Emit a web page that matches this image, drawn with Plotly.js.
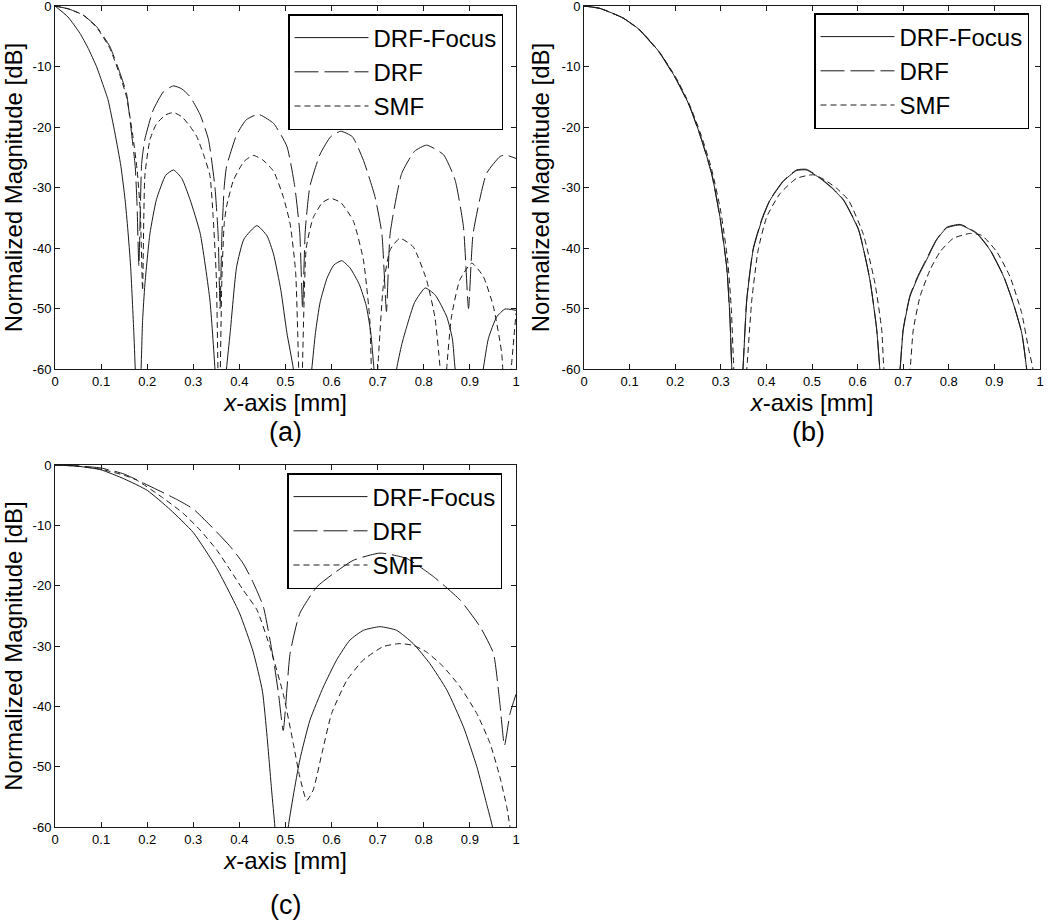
<!DOCTYPE html>
<html>
<head>
<meta charset="utf-8">
<script src="https://cdn.plot.ly/plotly-3.0.1.min.js"></script>
<style>
  body { margin: 0; background: #fff; }
  #myPlot { width: 1050px; height: 921px; }
</style>
</head>
<body>
<div id="myPlot"></div>
<script>
// Panel (a)
var aFocusX = [0,0.028,0.054,0.072,0.09,0.104,0.115,0.13,0.143,0.152,0.158,0.164,0.171,0.175,0.18,0.186,0.19,0.195,0.206,0.22,0.24,0.257,0.275,0.293,0.315,0.336,0.347,0.358,0.372,0.38,0.394,0.41,0.438,0.46,0.474,0.49,0.503,0.517,0.535,0.557,0.565,0.575,0.59,0.605,0.622,0.64,0.66,0.675,0.685,0.692,0.715,0.741,0.752,0.763,0.78,0.803,0.825,0.85,0.862,0.868,0.9,0.929,0.94,0.958,0.976,1.0]
var aFocusY = [0,-1.8,-4.5,-7,-10,-13,-15.5,-21,-26.5,-32,-37,-43,-54,-62,-75,-62,-52,-46,-37.6,-32,-28,-27.1,-28.5,-32,-37.6,-48.6,-60,-75,-60,-54,-43.1,-38.5,-36.3,-38,-41,-47,-54,-60,-75,-60,-54,-49,-45,-42.8,-42.1,-43.3,-46,-49.5,-54,-60,-75,-60,-56,-53,-49,-46.6,-47.8,-51.4,-55,-60,-75,-60,-55,-51.4,-50.1,-50.3]

var aDrfX = [0,0.03,0.061,0.09,0.119,0.141,0.155,0.166,0.174,0.178,0.182,0.188,0.195,0.213,0.235,0.257,0.275,0.293,0.315,0.333,0.347,0.354,0.358,0.362,0.367,0.372,0.394,0.415,0.441,0.474,0.503,0.52,0.531,0.537,0.543,0.553,0.575,0.598,0.62,0.645,0.669,0.694,0.709,0.719,0.727,0.752,0.78,0.806,0.843,0.868,0.886,0.897,0.907,0.936,0.965,0.976,1.0]
var aDrfY = [0,-0.5,-1.5,-3.4,-6.7,-11.1,-14.4,-21,-26.5,-33,-43,-26,-22,-17.2,-14.2,-13.2,-13.7,-15,-18,-22.1,-30,-38,-50,-38,-30,-26.6,-21.3,-18.8,-17.9,-19.4,-23.2,-29.8,-37.5,-50,-37,-29.8,-24.5,-21.6,-20.7,-21.6,-25.5,-31.5,-37.6,-50.5,-37.6,-27.7,-24,-23,-24.6,-28.8,-36.5,-50,-37.6,-27.7,-24.9,-24.6,-25.2]

var aSmfX = [0,0.03,0.061,0.09,0.119,0.141,0.155,0.168,0.178,0.185,0.19,0.195,0.206,0.22,0.24,0.257,0.275,0.292,0.307,0.322,0.336,0.343,0.35,0.356,0.362,0.367,0.372,0.387,0.41,0.43,0.45,0.474,0.495,0.51,0.522,0.533,0.545,0.56,0.58,0.598,0.62,0.647,0.669,0.683,0.69,0.70,0.712,0.727,0.748,0.777,0.806,0.824,0.835,0.842,0.85,0.86,0.878,0.904,0.929,0.951,0.969,0.978,0.99,1.0]
var aSmfY = [0,-0.5,-1.5,-3.5,-7,-11.5,-15,-21,-27,-34,-47,-28,-22.1,-19.5,-18,-17.6,-18.3,-19.8,-21.5,-24.5,-28,-34.8,-45,-70,-45,-36,-33.2,-28.8,-25.7,-24.7,-25.4,-27.3,-31.5,-36,-44,-70,-40,-35,-32.5,-31.8,-32.5,-35.5,-42,-52,-70,-60,-46.4,-40.3,-38.4,-39.8,-45.3,-51.4,-59.6,-70,-59.6,-51.4,-45.3,-42.5,-44.7,-49.7,-57.4,-70,-59.6,-50.8]

// Panel (b)
var bFocusX = [0,0.035,0.086,0.123,0.167,0.203,0.232,0.258,0.28,0.298,0.313,0.32,0.324,0.337,0.349,0.357,0.371,0.39,0.408,0.437,0.466,0.488,0.518,0.545,0.569,0.602,0.627,0.642,0.649,0.67,0.693,0.7,0.715,0.733,0.755,0.773,0.795,0.825,0.861,0.89,0.92,0.941,0.96,0.971,0.985,1.0]
var bFocusY = [0,-0.4,-2,-4,-7.8,-12.2,-16.6,-22.1,-27.7,-34.8,-43.1,-51.4,-59.6,-75,-59.6,-48.6,-40.3,-35.4,-32.1,-29,-27.2,-27.1,-28.5,-30.2,-32.1,-37,-45.3,-53.6,-60.2,-75,-60.2,-53.6,-48,-44.7,-41.4,-38.7,-36.7,-36.2,-37.6,-40.3,-44.7,-49.1,-54.1,-60.2,-70,-72]

var bDrfX = [0,0.035,0.086,0.123,0.167,0.203,0.232,0.258,0.28,0.298,0.313,0.32,0.324,0.337,0.349,0.357,0.371,0.39,0.408,0.437,0.466,0.488,0.518,0.545,0.569,0.602,0.627,0.642,0.649,0.67,0.693,0.7,0.715,0.733,0.755,0.773,0.795,0.825,0.861,0.89,0.92,0.941,0.96,0.971,0.985,1.0]
var bDrfY = [0,-0.4,-2,-4.1,-7.9,-12.3,-16.7,-22.2,-27.8,-34.9,-43.3,-51.6,-59.8,-75,-59.4,-48.4,-40.1,-35.2,-32,-28.9,-27.1,-27,-28.4,-30.1,-32,-36.9,-45.2,-53.5,-60.1,-75,-60,-53.4,-47.8,-44.5,-41.2,-38.6,-36.6,-36.1,-37.5,-40.2,-44.6,-49,-54,-60.1,-70,-72]

var bSmfX = [0,0.035,0.086,0.123,0.167,0.203,0.232,0.258,0.28,0.3,0.315,0.323,0.328,0.34,0.357,0.368,0.382,0.401,0.43,0.466,0.503,0.529,0.555,0.58,0.612,0.638,0.653,0.658,0.69,0.715,0.722,0.737,0.759,0.781,0.81,0.846,0.872,0.905,0.934,0.96,0.974,0.985,1.0]
var bSmfY = [0,-0.4,-2,-4,-7.8,-12,-16.4,-21.6,-27,-34,-42,-50,-59,-75,-60,-48.6,-40.3,-34.8,-31,-28.5,-27.9,-28.8,-30.2,-32.1,-37.6,-45.8,-53.6,-60.2,-75,-60.2,-53.6,-48,-43.6,-40.6,-38.4,-37.6,-37.9,-40.6,-44.7,-50.8,-56.3,-60.2,-72]

// Panel (c)
var cFocusX = [0,0.05,0.1,0.15,0.2,0.25,0.3,0.35,0.4,0.43,0.45,0.46,0.47,0.477,0.49,0.506,0.531,0.553,0.582,0.611,0.64,0.669,0.705,0.741,0.777,0.813,0.85,0.886,0.915,0.936,0.949,0.97,1.0]
var cFocusY = [0,-0.2,-0.8,-2.3,-4.2,-7.4,-11.2,-17,-24.5,-31,-37.5,-45,-54,-60,-75,-60,-48.9,-42.3,-36.8,-32.3,-29,-27.4,-26.8,-27.4,-29.6,-32.9,-37.3,-43.4,-50,-56.1,-60,-70,-75]

var cDrfX = [0,0.05,0.1,0.15,0.192,0.264,0.3,0.343,0.38,0.408,0.43,0.452,0.474,0.485,0.495,0.51,0.531,0.568,0.604,0.647,0.705,0.763,0.821,0.879,0.922,0.951,0.965,0.975,0.987,1.0]
var cDrfY = [0,-0.15,-0.5,-1.5,-3,-5.7,-7.3,-10.5,-13.5,-16.3,-19.5,-23.5,-32.3,-38,-44,-31.2,-24.6,-20.2,-18,-15.8,-14.6,-15.5,-18.5,-22.4,-26.8,-31.2,-39.5,-46.5,-41.2,-38]

var cSmfX = [0,0.05,0.1,0.15,0.177,0.235,0.278,0.315,0.351,0.38,0.408,0.438,0.466,0.495,0.517,0.531,0.546,0.56,0.579,0.6,0.633,0.669,0.712,0.748,0.777,0.806,0.842,0.879,0.915,0.944,0.965,0.98,0.987,1.0]
var cSmfY = [0,-0.2,-0.7,-1.7,-2.5,-5.5,-8,-10.8,-14.1,-17.4,-20.7,-24,-30.1,-37.9,-46.2,-51.7,-55.6,-53.9,-47.8,-41.2,-35.7,-32.3,-30.1,-29.6,-29.9,-31,-33.4,-36.8,-41.2,-46.2,-51.7,-56.7,-60,-66]

var seriesNames = ['DRF-Focus', 'DRF', 'SMF']
var xTicks = [0, 0.1, 0.2, 0.3, 0.4, 0.5, 0.6, 0.7, 0.8, 0.9, 1]
var yTicks = [0, -10, -20, -30, -40, -50, -60]
var panelLabels = ['(a)', '(b)', '(c)']

var ink = '#1a1a1a'
var font = 'Liberation Sans, Arial, sans-serif'

var lineStyles = [
  {color: ink, width: 1},
  {color: ink, width: 1, dash: '24px,6px'},
  {color: ink, width: 1, dash: '6px,4px'}
]

function makeTraces(xs, ys, xa, ya, legendId) {
  var out = []
  for (var i = 0; i < 3; i++) {
    out.push({
      x: xs[i], y: ys[i], mode: 'lines', type: 'scatter',
      line: Object.assign({shape: 'spline', smoothing: 0.5}, lineStyles[i]),
      name: seriesNames[i], xaxis: xa, yaxis: ya, legend: legendId
    })
  }
  return out
}

var data = []
  .concat(makeTraces([aFocusX, aDrfX, aSmfX], [aFocusY, aDrfY, aSmfY], 'x', 'y', 'legend'))
  .concat(makeTraces([bFocusX, bDrfX, bSmfX], [bFocusY, bDrfY, bSmfY], 'x2', 'y2', 'legend2'))
  .concat(makeTraces([cFocusX, cDrfX, cSmfX], [cFocusY, cDrfY, cSmfY], 'x3', 'y3', 'legend3'))

function xAxis(dom, anchor) {
  return {
    domain: dom, anchor: anchor, range: [0, 1],
    tickvals: xTicks, ticktext: xTicks.map(String),
    ticks: 'inside', ticklen: 5, tickcolor: ink,
    showline: true, linecolor: ink, linewidth: 1, mirror: 'ticks',
    showgrid: false, zeroline: false, ticklabeloverflow: 'allow',
    tickfont: {family: font, size: 13, color: '#000'},
    title: {text: '<i>x</i>-axis [mm]', font: {family: font, size: 24, color: '#000'}, standoff: 4}
  }
}

function yAxis(dom, anchor) {
  return {
    domain: dom, anchor: anchor, range: [-60, 0],
    tickvals: yTicks, ticktext: yTicks.map(String),
    ticks: 'inside', ticklen: 5, tickcolor: ink,
    showline: true, linecolor: ink, linewidth: 1, mirror: 'ticks',
    showgrid: false, zeroline: false, ticklabeloverflow: 'allow',
    tickfont: {family: font, size: 13, color: '#000'},
    title: {text: 'Normalized Magnitude [dB]', font: {family: font, size: 24, color: '#000'}, standoff: 5}
  }
}

function legendAt(x, y) {
  return {
    x: x, y: y, xanchor: 'left', yanchor: 'top',
    bgcolor: 'rgba(0,0,0,0)', bordercolor: '#000', borderwidth: 1.5,
    font: {family: font, size: 24, color: '#000'},
    itemwidth: 74, tracegroupgap: 0
  }
}

var topDom = [1 - 369 / 921, 1 - 6 / 921]
var botDom = [1 - 827 / 921, 1 - 465 / 921]
var leftDom = [55 / 1050, 516 / 1050]
var rightDom = [584 / 1050, 1040 / 1050]

var layout = {
  width: 1050, height: 921,
  margin: {l: 0, r: 0, t: 0, b: 0},
  paper_bgcolor: '#fff', plot_bgcolor: '#fff',
  xaxis: xAxis(leftDom, 'y'), yaxis: yAxis(topDom, 'x'),
  xaxis2: xAxis(rightDom, 'y2'), yaxis2: yAxis(topDom, 'x2'),
  xaxis3: xAxis(leftDom, 'y3'), yaxis3: yAxis(botDom, 'x3'),
  legend: legendAt(288 / 1050, 1 - 14 / 921),
  legend2: legendAt(814 / 1050, 1 - 13 / 921),
  legend3: legendAt(287 / 1050, 1 - 473 / 921),
  annotations: [
    {text: panelLabels[0], x: 285 / 1050, y: 1 - 432 / 921},
    {text: panelLabels[1], x: 808 / 1050, y: 1 - 432 / 921},
    {text: panelLabels[2], x: 285 / 1050, y: 1 - 905 / 921}
  ].map(function (a) {
    return Object.assign({xref: 'paper', yref: 'paper', showarrow: false,
      xanchor: 'center', yanchor: 'middle', font: {family: font, size: 27, color: '#000'}}, a)
  })
}

Plotly.newPlot('myPlot', data, layout, {staticPlot: true})
</script>
</body>
</html>
